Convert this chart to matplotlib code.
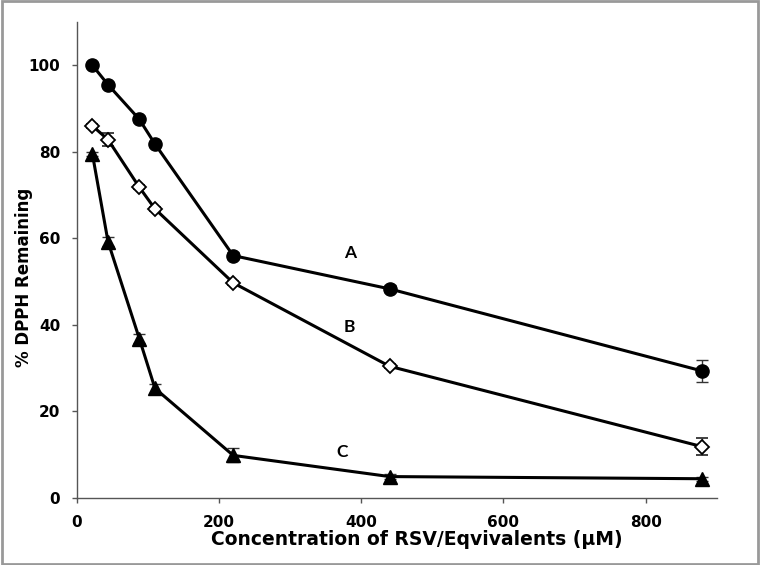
import numpy as np
import matplotlib
matplotlib.use('Agg')
from matplotlib import pyplot as plt
from matplotlib.patches import Rectangle

plt.rcParams.update({'font.family': ['DejaVu Sans'], 'font.weight': 'bold'})

conc = [22, 44, 88, 110, 220, 440, 880]
series_a = [100, 95.5, 87.5, 81.8, 56.0, 48.3, 29.3]
err_a = [0.5, 0.5, 0.5, 0.5, 0.8, 0.8, 2.5]
series_b = [86.0, 82.8, 71.8, 66.8, 49.7, 30.4, 11.8]
err_b = [0.5, 1.5, 0.5, 0.5, 0.5, 0.5, 2.0]
series_c = [79.5, 59.2, 36.8, 25.3, 9.8, 4.9, 4.4]
err_c = [0.5, 1.0, 1.0, 1.0, 1.6, 0.5, 0.5]

fig = plt.figure(figsize=(7.6, 5.65), dpi=100)
ax = fig.add_axes([0.101, 0.119, 0.842, 0.842])

ax.errorbar(conc, series_a, yerr=err_a, color='black', lw=2.2, marker='o', ms=9.5,
            mfc='black', mec='black', ecolor='#333333', elinewidth=1, capsize=4)
ax.errorbar(conc, series_b, yerr=err_b, color='black', lw=2.2, marker='D', ms=7.5,
            mfc='white', mec='black', mew=1.3, ecolor='#333333', elinewidth=1, capsize=4)
ax.errorbar(conc, series_c, yerr=err_c, color='black', lw=2.2, marker='^', ms=10,
            mfc='black', mec='black', ecolor='#333333', elinewidth=1, capsize=4)

for txt, xx, yy in [('A', 384, 56.5), ('B', 384, 39.5), ('C', 373, 10.5)]:
    ax.text(xx, yy, txt, fontsize=12.5, fontweight='bold', ha='center', va='center',
            family=['Lato', 'DejaVu Sans'])

ax.set_xlim(0, 900)
ax.set_ylim(0, 110)
ax.set_xticks([0, 200, 400, 600, 800])
ax.set_yticks([0, 20, 40, 60, 80, 100])
for s in ['top', 'right']:
    ax.spines[s].set_visible(False)
for s in ['left', 'bottom']:
    ax.spines[s].set_color('#555555')
    ax.spines[s].set_linewidth(1)
ax.tick_params(direction='out', length=3.5, width=1, color='#555555', labelsize=11, pad=8.5)
ax.tick_params(axis='x', pad=9)
for lab in ax.get_xticklabels() + ax.get_yticklabels():
    lab.set_fontweight('bold')

ax.set_xlabel('Concentration of RSV/Eqvivalents (\u00b5M)', fontsize=13.5, fontweight='bold')
ax.xaxis.set_label_coords(0.531, -0.068)
ax.set_ylabel('% DPPH Remaining', fontsize=12, fontweight='bold')
ax.yaxis.set_label_coords(-0.069, 0.464)

fig.patches.append(Rectangle((0.002, 0.002), 0.996, 0.996, transform=fig.transFigure,
                             fill=False, edgecolor='#999999', lw=2))

fig.savefig('out.png', dpi=100)
